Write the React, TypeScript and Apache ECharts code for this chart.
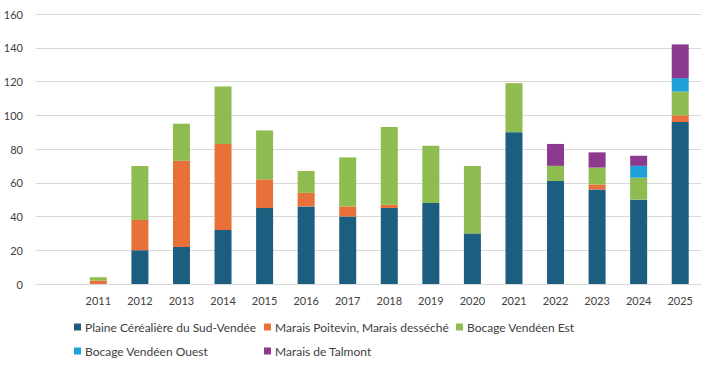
import React, { useEffect, useRef } from "react";
import * as echarts from "echarts";

const categories = ["", "2011", "2012", "2013", "2014", "2015", "2016", "2017", "2018", "2019", "2020", "2021", "2022", "2023", "2024", "2025"];
const seriesNames = [
  "Plaine Céréalière du Sud-Vendée",
  "Marais Poitevin, Marais desséché",
  "Bocage Vendéen Est",
  "Bocage Vendéen Ouest",
  "Marais de Talmont",
];
const plaine = [null, 0, 20, 22, 32, 45, 46, 40, 45, 48, 30, 90, 61, 56, 50, 96];
const maraisPoitevin = [null, 2, 18, 51, 51, 17, 8, 6, 2, 0, 0, 0, 0, 3, 0, 4];
const bocageEst = [null, 2, 32, 22, 34, 29, 13, 29, 46, 34, 40, 29, 9, 10, 13, 14];
const bocageOuest = [null, 0, 0, 0, 0, 0, 0, 0, 0, 0, 0, 0, 0, 0, 7, 8];
const maraisTalmont = [null, 0, 0, 0, 0, 0, 0, 0, 0, 0, 0, 0, 13, 9, 6, 20];
const yTicks = [0, 20, 40, 60, 80, 100, 120, 140, 160];

const colors = ["#1b5e80", "#e8713a", "#8fbc50", "#1fa0d6", "#8b3a8d"];
const FONT = "Lato";

export default function App() {
  const ref = useRef<HTMLDivElement>(null);
  useEffect(() => {
    if (!ref.current) return;
    const chart = echarts.init(ref.current, undefined, { renderer: "svg" });
    const data = [plaine, maraisPoitevin, bocageEst, bocageOuest, maraisTalmont];
    const legendPos = [
      { left: 74, top: 321 },
      { left: 264, top: 321 },
      { left: 456, top: 321 },
      { left: 74, top: 345 },
      { left: 264, top: 345 },
    ];
    chart.setOption({
      animation: false,
      color: colors,
      textStyle: { fontFamily: FONT },
      grid: { left: 36, right: 11, top: 14, bottom: 86, containLabel: false },
      legend: seriesNames.map((n, i) => ({
        data: [n],
        left: legendPos[i].left,
        top: legendPos[i].top,
        icon: "rect",
        itemWidth: 7,
        itemHeight: 7,
        itemGap: 4,
        padding: 0,
        textStyle: { fontFamily: FONT, fontSize: 12, color: "#404040", padding: [0, 0, 0, -1] },
        selectedMode: false,
      })),
      xAxis: {
        type: "category",
        data: categories,
        axisTick: { show: false },
        axisLine: { lineStyle: { color: "#d9d9d9" } },
        axisLabel: { color: "#404040", fontSize: 11, fontFamily: FONT, margin: 11, interval: 0 },
      },
      yAxis: {
        type: "value",
        min: yTicks[0],
        max: yTicks[yTicks.length - 1],
        interval: 20,
        axisLine: { show: false },
        axisTick: { show: false },
        splitLine: { lineStyle: { color: "#d9d9d9" } },
        axisLabel: { color: "#404040", fontSize: 11, fontFamily: FONT, margin: 13 },
      },
      series: seriesNames.map((n, i) => ({
        name: n,
        type: "bar",
        stack: "total",
        barWidth: 17,
        data: data[i],
        itemStyle: { color: colors[i] },
      })),
    });
    return () => chart.dispose();
  }, []);
  return <div ref={ref} style={{ position: "absolute", left: 0, top: 0, width: 712, height: 370 }} />;
}
